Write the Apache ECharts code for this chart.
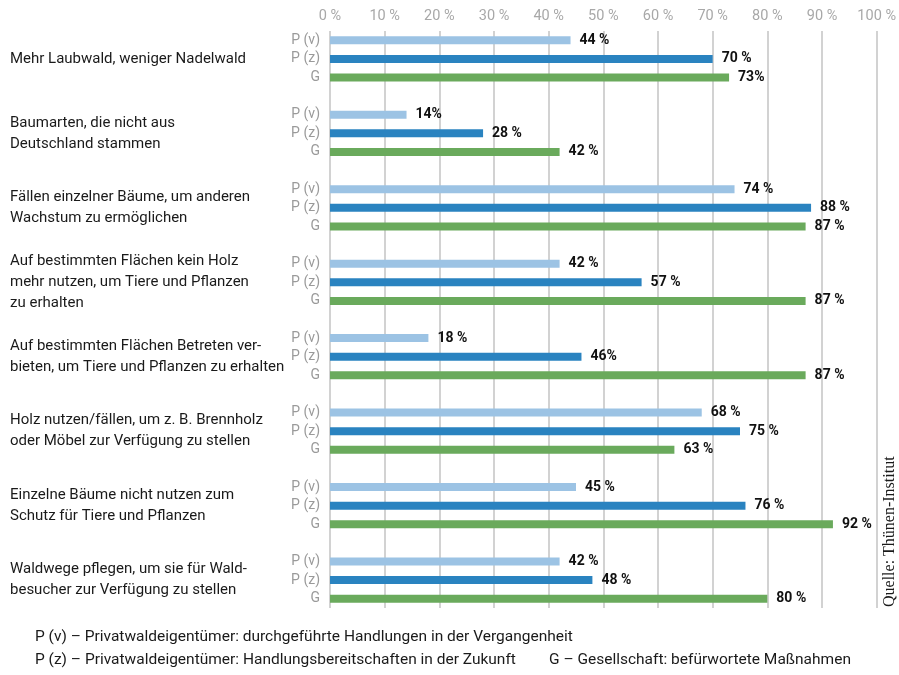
<!DOCTYPE html>
<html>
<head>
<meta charset="utf-8">
<script src="https://cdn.jsdelivr.net/npm/echarts@6/dist/echarts.min.js"></script>
<style>
  html, body { margin: 0; padding: 0; background: #fff; }
  #chart { width: 899px; height: 675px; }
</style>
</head>
<body>
<div id="chart"></div>
<script>
// Data
const groupLabels = [
    'Mehr Laubwald, weniger Nadelwald',
    'Baumarten, die nicht aus\nDeutschland stammen',
    'Fällen einzelner Bäume, um anderen\nWachstum zu ermöglichen',
    'Auf bestimmten Flächen kein Holz\nmehr nutzen, um Tiere und Pflanzen\nzu erhalten',
    'Auf bestimmten Flächen Betreten ver-\nbieten, um Tiere und Pflanzen zu erhalten',
    'Holz nutzen/fällen, um z. B. Brennholz\noder Möbel zur Verfügung zu stellen',
    'Einzelne Bäume nicht nutzen zum\nSchutz für Tiere und Pflanzen',
    'Waldwege pflegen, um sie für Wald-\nbesucher zur Verfügung zu stellen'
];
const subLabels = ['P (v)', 'P (z)', 'G'];

const pastValues = [44, 14, 74, 42, 18, 68, 45, 42];
const futureValues = [70, 28, 88, 57, 46, 75, 76, 48];
const societyValues = [73, 42, 87, 87, 87, 63, 92, 80];

const pastText = ['44 %', '14%', '74 %', '42 %', '18 %', '68 %', '45 %', '42 %'];
const futureText = ['70 %', '28 %', '88 %', '57 %', '46%', '75 %', '76 %', '48 %'];
const societyText = ['73%', '42 %', '87 %', '87 %', '87 %', '63 %', '92 %', '80 %'];

const xTicks = [0, 10, 20, 30, 40, 50, 60, 70, 80, 90, 100];

const fontFamily = '"Roboto", "Liberation Sans", sans-serif';

// Slots: 4 per group (P(v), P(z), G, spacer), last spacer dropped
const slotCount = groupLabels.length * 4 - 1;
const slots = Array.from({ length: slotCount }, (_, i) => 's' + i);

function slotData(values, offset) {
    const arr = new Array(slotCount).fill(null);
    values.forEach((v, i) => { arr[i * 4 + offset] = v; });
    return arr;
}

function makeSeries(name, values, texts, offset, color) {
    return {
        name: name,
        type: 'bar',
        data: slotData(values, offset),
        barWidth: 8,
        barGap: '-100%',
        itemStyle: { color: color },
        label: {
            show: true,
            position: 'right',
            distance: 9,
            color: '#111',
            fontWeight: 'bold',
            fontSize: 14,
            fontFamily: fontFamily,
            formatter: p => texts[Math.floor(p.dataIndex / 4)]
        },
        animation: false
    };
}

const chart = echarts.init(document.getElementById('chart'));

chart.setOption({
    backgroundColor: '#fff',
    grid: { left: 330, right: 19, top: 31, bottom: 67 },
    xAxis: {
        type: 'value',
        position: 'top',
        min: 0,
        max: 100,
        interval: 10,
        axisLine: { show: false },
        axisTick: { show: false },
        axisLabel: {
            color: '#a8a8a8',
            fontSize: 14.5,
            fontFamily: fontFamily,
            margin: 7,
            formatter: v => xTicks.includes(v) ? v + ' %' : ''
        },
        splitLine: { lineStyle: { color: '#d2d2d2', width: 2 } }
    },
    yAxis: [{
        type: 'category',
        data: slots,
        inverse: true,
        axisLine: { show: false },
        axisTick: { show: false },
        axisLabel: {
            color: '#9a9a9a',
            fontSize: 14,
            fontFamily: fontFamily,
            margin: 10,
            interval: 0,
            formatter: (v, i) => subLabels[i % 4] || ''
        }
    }, {
        type: 'category',
        data: slots,
        inverse: true,
        position: 'left',
        axisLine: { show: false },
        axisTick: { show: false },
        axisLabel: {
            color: '#1a1a1a',
            fontSize: 15,
            lineHeight: 21,
            fontFamily: fontFamily,
            align: 'left',
            margin: 320,
            interval: 0,
            formatter: (v, i) => i % 4 === 1 ? groupLabels[Math.floor(i / 4)] : ''
        }
    }],
    series: [
        makeSeries('P (v)', pastValues, pastText, 0, '#9cc3e4'),
        makeSeries('P (z)', futureValues, futureText, 1, '#2a83c0'),
        makeSeries('G', societyValues, societyText, 2, '#6aaa5c')
    ],
    graphic: [
        {
            type: 'text',
            left: 35,
            top: 629,
            style: {
                text: 'P (v) – Privatwaldeigentümer: durchgeführte Handlungen in der Vergangenheit',
                font: '15.5px ' + fontFamily,
                fill: '#1a1a1a'
            }
        },
        {
            type: 'text',
            left: 35,
            top: 652,
            style: {
                text: 'P (z) – Privatwaldeigentümer: Handlungsbereitschaften in der Zukunft',
                font: '15.5px ' + fontFamily,
                fill: '#1a1a1a'
            }
        },
        {
            type: 'text',
            left: 549,
            top: 652,
            style: {
                text: 'G – Gesellschaft: befürwortete Maßnahmen',
                font: '15.5px ' + fontFamily,
                fill: '#1a1a1a'
            }
        },
        {
            type: 'text',
            x: 882,
            y: 607,
            rotation: Math.PI / 2,
            style: {
                text: 'Quelle: Thünen-Institut',
                font: '16px "Liberation Serif", "DejaVu Serif", serif',
                fill: '#1a1a1a',
                align: 'left',
                verticalAlign: 'top'
            }
        }
    ]
});
</script>
</body>
</html>
